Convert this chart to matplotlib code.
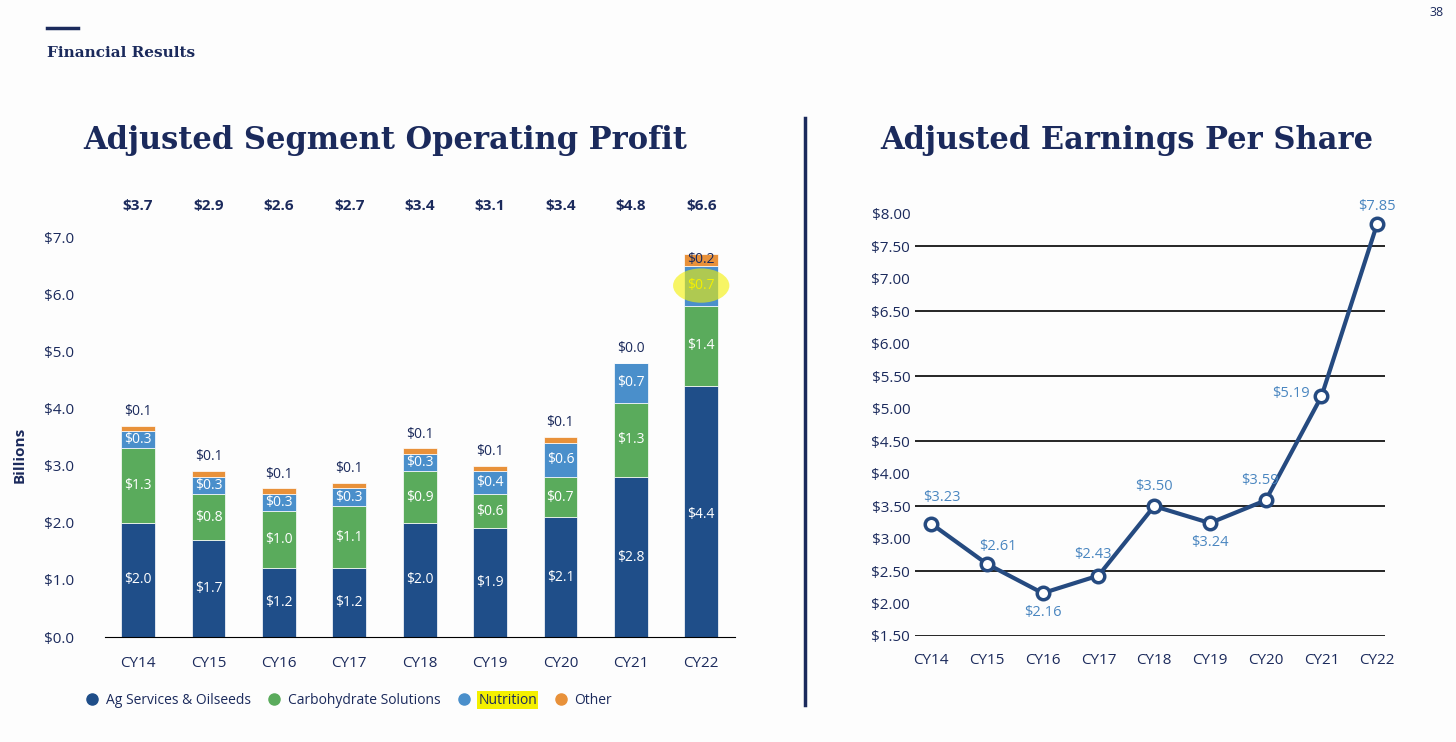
import numpy as np
import matplotlib.pyplot as plt
from matplotlib.lines import Line2D
from matplotlib.patches import Ellipse

plt.rcParams['font.family'] = ['Open Sans', 'DejaVu Sans']

years = ['CY14', 'CY15', 'CY16', 'CY17', 'CY18', 'CY19', 'CY20', 'CY21', 'CY22']
ag = [2.0, 1.7, 1.2, 1.2, 2.0, 1.9, 2.1, 2.8, 4.4]
carb = [1.3, 0.8, 1.0, 1.1, 0.9, 0.6, 0.7, 1.3, 1.4]
nutr = [0.3, 0.3, 0.3, 0.3, 0.3, 0.4, 0.6, 0.7, 0.7]
other = [0.1, 0.1, 0.1, 0.1, 0.1, 0.1, 0.1, 0.0, 0.2]
totals = ['$3.7', '$2.9', '$2.6', '$2.7', '$3.4', '$3.1', '$3.4', '$4.8', '$6.6']
eps = [3.23, 2.61, 2.16, 2.43, 3.50, 3.24, 3.59, 5.19, 7.85]

NAVY = '#1b2a5c'
C_AG, C_CARB, C_NUT, C_OTH = '#1f4e89', '#5aab5c', '#4a8fcb', '#e8913a'
W, H = 1456, 742

fig = plt.figure(figsize=(14.56, 7.42), dpi=100)
fig.patch.set_facecolor('#fdfdfd')

def box(l, r, b, t):
    return [l / W, (H - b) / H, (r - l) / W, (b - t) / H]

# header
fig.add_artist(Line2D([47 / W, 78 / W], [1 - 28 / H] * 2, color=NAVY, lw=2.5))
fig.text(47 / W, 1 - 53 / H, 'Financial Results', color=NAVY, fontsize=11, fontweight='bold',
         family='DejaVu Serif', va='center')
fig.text(1430 / W, 1 - 13 / H, '38', color=NAVY, fontsize=9, va='center')
fig.add_artist(Line2D([805 / W] * 2, [1 - 118 / H, 1 - 705 / H], color=NAVY, lw=2.5))
fig.text(385 / W, 1 - 140 / H, 'Adjusted Segment Operating Profit', color=NAVY, fontsize=22,
         fontweight='bold', family='DejaVu Serif', ha='center', va='center')
fig.text(1127 / W, 1 - 140 / H, 'Adjusted Earnings Per Share', color=NAVY, fontsize=22,
         fontweight='bold', family='DejaVu Serif', ha='center', va='center')

# left: stacked bars
ax1 = fig.add_axes(box(105, 735, 637, 237))
x = np.arange(len(years))
bw = 0.48
b1 = np.array(ag)
b2 = b1 + carb
b3 = b2 + nutr
ax1.bar(x, ag, bw, color=C_AG, edgecolor='white', lw=0.5)
ax1.bar(x, carb, bw, bottom=b1, color=C_CARB, edgecolor='white', lw=0.5)
ax1.bar(x, nutr, bw, bottom=b2, color=C_NUT, edgecolor='white', lw=0.5)
ax1.bar(x, other, bw, bottom=b3, color=C_OTH, edgecolor='white', lw=0.5)
for i in range(len(years)):
    ax1.text(i, ag[i] / 2 if i < 8 else 2.15, f'${ag[i]:.1f}', color='white', ha='center', va='center', fontsize=10)
    ax1.text(i, b1[i] + carb[i] / 2, f'${carb[i]:.1f}', color='white', ha='center', va='center', fontsize=10)
    if i < 8:
        ax1.text(i, b2[i] + nutr[i] / 2, f'${nutr[i]:.1f}', color='white', ha='center', va='center', fontsize=10)
        ax1.text(i, b3[i] + other[i] + 0.12, f'${other[i]:.1f}', color=NAVY, ha='center', va='bottom', fontsize=10)
    else:
        ax1.text(i, b3[i] + other[i] / 2, f'${other[i]:.1f}', color=NAVY, ha='center', va='center', fontsize=10)
    ax1.text(i, 7.55, totals[i], color=NAVY, ha='center', va='center', fontsize=11, fontweight='bold')
# highlight
ax1.add_patch(Ellipse((8, b2[8] + nutr[8] / 2), 0.8, 0.6, color='#f4f000', alpha=0.6, zorder=3, lw=0))
ax1.text(8, b2[8] + nutr[8] / 2, '$0.7', color='#f4f000', ha='center', va='center', fontsize=10, zorder=4)

ax1.set_xlim(-0.47, 8.48)
ax1.set_ylim(0, 7)
ax1.set_yticks(np.arange(0, 7.1, 1.0))
ax1.set_yticklabels([f'${v:.1f}' for v in np.arange(0, 7.1, 1.0)], fontsize=11, color=NAVY)
ax1.set_xticks(x)
ax1.set_xticklabels(years, fontsize=11, color=NAVY)
ax1.tick_params(length=0, pad=14)
ax1.tick_params(axis='y', pad=22)
for s in ['top', 'right', 'left']:
    ax1.spines[s].set_visible(False)
ax1.spines['bottom'].set_color('black')
ax1.set_facecolor('none')
fig.text(20 / W, 1 - 455 / H, 'Billions', rotation=90, color=NAVY, fontsize=11, fontweight='bold',
         ha='center', va='center')

handles = [Line2D([], [], marker='o', ls='', color=c, markersize=8) for c in [C_AG, C_CARB, C_NUT, C_OTH]]
leg = fig.legend(handles, ['Ag Services & Oilseeds', 'Carbohydrate Solutions', 'Nutrition', 'Other'],
                 loc='center', bbox_to_anchor=(345 / W, 1 - 700 / H), ncol=4, frameon=False,
                 fontsize=10, handletextpad=0.0, columnspacing=0.7)
for t in leg.get_texts():
    t.set_color(NAVY)
leg.get_texts()[2].set_bbox(dict(facecolor='#f4f000', edgecolor='none', pad=1))

# right: EPS line
ax2 = fig.add_axes(box(915, 1385, 636, 214))
ax2.plot(x, eps, color='#254a80', lw=3, marker='o', markersize=9, markerfacecolor='white',
         markeredgecolor='#254a80', markeredgewidth=2.5, zorder=3)
offs = [(0.2, 0.4), (0.2, 0.27), (0, -0.3), (-0.1, 0.33), (0, 0.3), (0, -0.3),
        (-0.1, 0.3), (-0.55, 0.05), (0, 0.27)]
for i, v in enumerate(eps):
    ax2.text(i + offs[i][0], v + offs[i][1], f'${v:.2f}', color='#4a86c0', ha='center', va='center', fontsize=10.5)
ax2.set_xlim(-0.29, 8.14)
ax2.set_ylim(1.5, 8.0)
yt = np.arange(1.5, 8.01, 0.5)
ax2.set_yticks(yt)
ax2.set_yticklabels([f'${v:.2f}' for v in yt], fontsize=11, color=NAVY)
for v in np.arange(1.5, 8.0, 1.0):
    ax2.axhline(v, color='black', lw=1.2, zorder=1)
ax2.set_xticks(x)
ax2.set_xticklabels(years, fontsize=11, color=NAVY)
ax2.tick_params(length=0)
ax2.tick_params(axis='x', pad=12)
for s in ax2.spines.values():
    s.set_visible(False)
ax2.set_facecolor('none')

fig.savefig('out.png', dpi=100, facecolor=fig.get_facecolor())
